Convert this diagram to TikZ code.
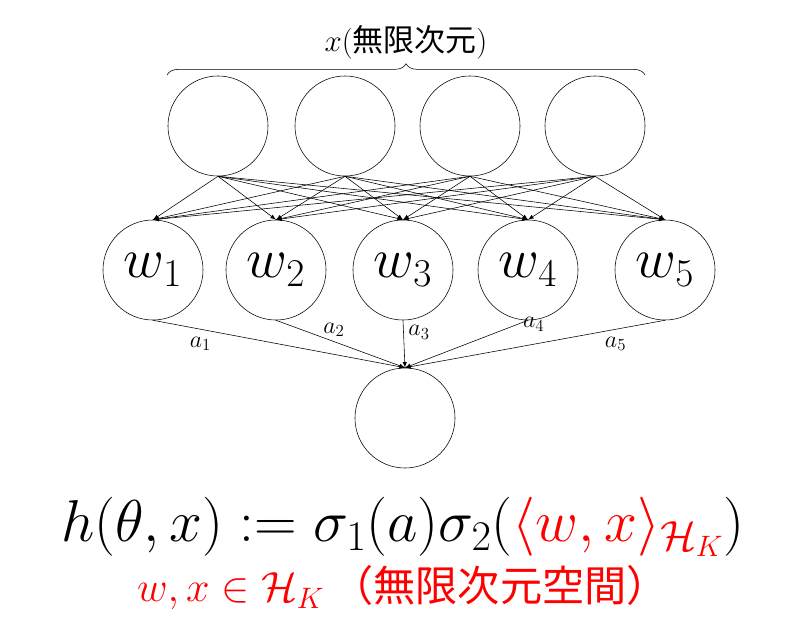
\RequirePackage{fix-cm}
\documentclass[tikz,border=0pt]{standalone}
\usepackage{amsmath, amssymb}
\usepackage{fontspec}
\newfontfamily\cjk{Noto Sans CJK JP}
\usetikzlibrary{decorations.pathreplacing}
\DeclareMathSizes{40}{40}{28}{20}
\DeclareMathSizes{42}{42}{30}{21}
\DeclareMathSizes{30}{30}{21}{15}
\DeclareMathSizes{22}{22}{16}{12}
\DeclareMathSizes{17}{17}{12}{9}

\tikzset{
  unit/.style={draw, circle, minimum size=2.5cm, inner sep=0pt, font=\fontsize{40}{44}\selectfont},
  link/.style={-latex, thin},
  weight/.style={font=\fontsize{17}{20}\selectfont}
}

\begin{document}
\begin{tikzpicture}[x=0.025cm, y=-0.025cm]
        \useasboundingbox (0,0) rectangle (807,622);

        % Input layer
        \foreach \i/\px in {1/218, 2/345, 3/470, 4/595}
            \node[unit] (in\i) at (\px,126) {};

        % Hidden layer
        \foreach \i/\px in {1/153, 2/276, 3/403, 4/528, 5/665}
            \node[unit] (w\i) at (\px,270) {$w_{\i}$};

        % Output
        \node[unit] (out) at (405,418) {};

        % Connections
        \foreach \i in {1,...,4}
            \foreach \j in {1,...,5}
                \draw[link] (in\i.south) -- (w\j.north);
        \foreach \j/\pos/\side in {1/0.25/below left, 2/0.45/above, 3/0.25/right, 4/0.08/right, 5/0.25/below right}
            \draw[link] (w\j.south) -- (out.north) node[weight, pos=\pos, \side] {$a_{\j}$};

        % Brace
        \draw[decorate, decoration={brace, amplitude=8pt}] (167,75) -- (645,75)
            node[midway, above=8pt, font=\fontsize{22}{26}\selectfont] {$x$({\cjk 無限次元})};

        % Formulas
        \node[font=\fontsize{42}{48}\selectfont] (eq) at (403,527)
            {$h(\theta,x) := \sigma_1(a)\sigma_2(\textcolor{red}{\langle w,x\rangle_{\mathcal{H}_K}})$};
        \node[red, font=\fontsize{30}{36}\selectfont] (sp) at (403,588)
            {$w,x\in\mathcal{H}_K$\,{\cjk （無限次元空間）}};
\end{tikzpicture}
\end{document}
